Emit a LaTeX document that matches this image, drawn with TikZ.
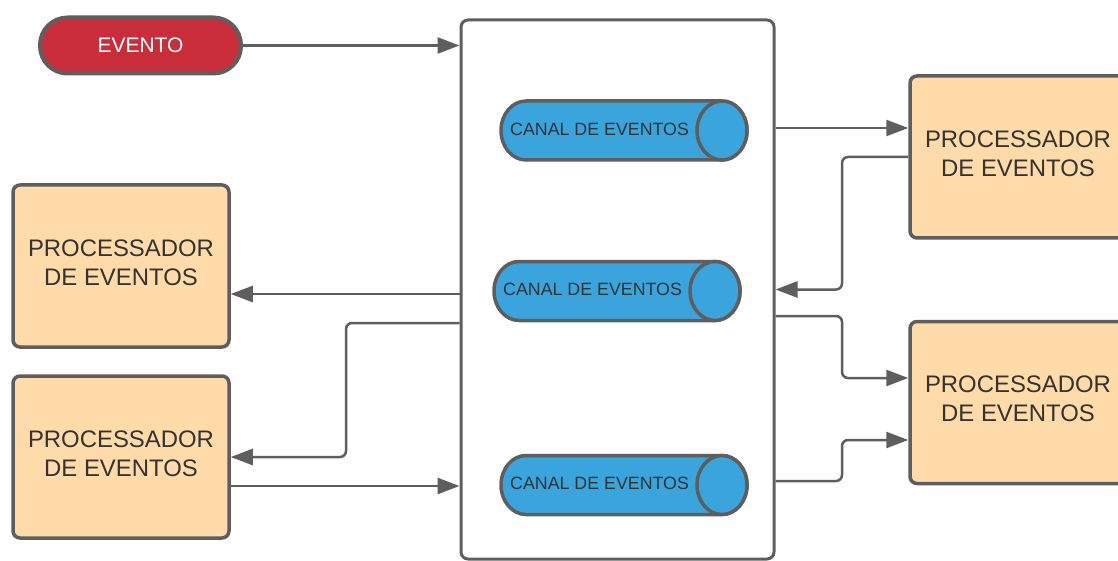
\documentclass[tikz,border=0pt]{standalone}
\usepackage{fontspec}
\setmainfont{Liberation Sans}
\usetikzlibrary{arrows.meta,calc}
\definecolor{linegray}{HTML}{5E5E5E}
\definecolor{textgray}{HTML}{333333}
\definecolor{eventred}{HTML}{C92D39}
\definecolor{canalblue}{HTML}{3AA5DD}
\definecolor{procfill}{HTML}{FFDBA9}
\tikzset{
  boxbase/.style={draw=linegray, line width=3.5pt, rounded corners=7pt},
  proc/.style={boxbase, fill=procfill, minimum width=216pt, minimum height=162pt,
    text=textgray, align=center, inner sep=0pt, text depth=7pt,
    font=\fontsize{23.9}{29}\selectfont},
  bus/.style={boxbase, line width=3pt, fill=white, minimum width=313pt, minimum height=539pt},
  evento/.style={draw=linegray, line width=4pt, fill=eventred, rounded corners=27.5pt,
    minimum width=201pt, minimum height=56pt, inner sep=0pt, text=white,
    font=\fontsize{21}{25}\selectfont},
  canaltext/.style={text=textgray, inner sep=0pt, font=\fontsize{17.8}{21}\selectfont},
  canalshape/.style={draw=linegray, line width=3.5pt, fill=canalblue},
  conn/.style={draw=linegray, line width=2.5pt, rounded corners=6pt,
    -{Triangle[length=22pt,width=16pt]}},
  % horizontal cylinder, 246 long and 59 high, its end cap on the right
  canal/.pic={
    \path[canalshape] (98,-29.5) -- (-98,-29.5)
      arc[start angle=270, end angle=90, x radius=25, y radius=29.5]
      -- (98,29.5)
      arc[start angle=90, end angle=-90, x radius=25, y radius=29.5] -- cycle;
    \path[canalshape] (98,0) ellipse [x radius=25, y radius=29.5];
    \node[canaltext, anchor=west] (-t) at (-114,-1.5) {CANAL DE EVENTOS};
  }
}
\begin{document}
\begin{tikzpicture}[x=1pt, y=-1pt]
\useasboundingbox (0,0) rectangle (1118,561);
\clip (0,0) rectangle (1118,561);

% event source
\node[evento] (ev) at (140.5,45.5) {EVENTO};

% event bus holding the channels
\node[bus] (bus) at (617.5,289.5) {};
\pic (c1) at (624,130.5) {canal};
\pic (c2) at (617,291) {canal};
\pic (c3) at (624,485) {canal};

% processors
\node[proc] (p1) at (1018,157) {PROCESSADOR\\DE EVENTOS};
\node[proc] (p2) at (1018,402.5) {PROCESSADOR\\DE EVENTOS};
\node[proc] (l1) at (121,266) {PROCESSADOR\\DE EVENTOS};
\node[proc] (l2) at (121,457) {PROCESSADOR\\DE EVENTOS};

% attachment points and bend lines
\coordinate (midR) at (842,0);
\coordinate (midL) at (346,0);
\coordinate (p1in) at ([yshift=29pt]p1.west);
\coordinate (p2a) at ([yshift=24.5pt]p2.west);
\coordinate (p2b) at ([yshift=-37.5pt]p2.west);
\coordinate (b4) at ([yshift=-26.5pt]bus.east);
\coordinate (b5) at ([yshift=-191.5pt]bus.east);
\coordinate (l1a) at ([yshift=-28pt]l1.east);
\coordinate (b7) at ([yshift=-33.5pt]bus.west);
\coordinate (l2b) at ([yshift=-29pt]l2.east);

% connectors
\draw[conn] (ev.east) -- (ev.east -| bus.west);
\draw[conn] (bus.east |- p1in) -- (p1in);
\draw[conn] (p1.west) -| (midR |- bus.east) -- (bus.east);
\draw[conn] (b4) -| (midR |- p2a) -- (p2a);
\draw[conn] (b5) -| (midR |- p2b) -- (p2b);
\draw[conn] (bus.west |- l1a) -- (l1a);
\draw[conn] (b7) -| (midL |- l2.east) -- (l2.east);
\draw[conn] (l2b) -- (bus.west |- l2b);
\end{tikzpicture}
\end{document}
